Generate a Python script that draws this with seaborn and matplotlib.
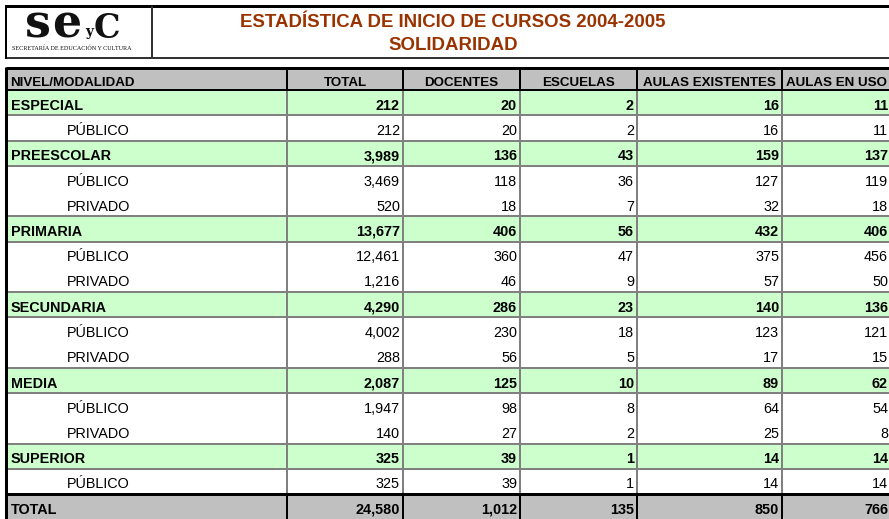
import matplotlib
matplotlib.use("Agg")
import matplotlib.pyplot as plt
import seaborn as sns

# ---------------- data ----------------
title_lines = ["ESTADÍSTICA DE INICIO DE CURSOS 2004-2005", "SOLIDARIDAD"]
columns = ["NIVEL/MODALIDAD", "TOTAL", "DOCENTES", "ESCUELAS", "AULAS EXISTENTES", "AULAS EN USO"]
labels = ["ESPECIAL", "PÚBLICO", "PREESCOLAR", "PÚBLICO", "PRIVADO", "PRIMARIA", "PÚBLICO",
          "PRIVADO", "SECUNDARIA", "PÚBLICO", "PRIVADO", "MEDIA", "PÚBLICO", "PRIVADO",
          "SUPERIOR", "PÚBLICO", "TOTAL"]
row_kind = ["group", "sub", "group", "sub", "sub", "group", "sub", "sub", "group", "sub", "sub",
            "group", "sub", "sub", "group", "sub", "total"]
total = [212, 212, 3989, 3469, 520, 13677, 12461, 1216, 4290, 4002, 288, 2087, 1947, 140, 325, 325, 24580]
docentes = [20, 20, 136, 118, 18, 406, 360, 46, 286, 230, 56, 125, 98, 27, 39, 39, 1012]
escuelas = [2, 2, 43, 36, 7, 56, 47, 9, 23, 18, 5, 10, 8, 2, 1, 1, 135]
aulas_existentes = [16, 16, 159, 127, 32, 432, 375, 57, 140, 123, 17, 89, 64, 25, 14, 14, 850]
aulas_en_uso = [11, 11, 137, 119, 18, 406, 456, 50, 136, 121, 15, 62, 54, 8, 14, 14, 766]

# ---------------- style ----------------
sns.set_theme(style="white")
plt.rcParams["font.family"] = ["Liberation Sans", "DejaVu Sans"]
plt.rcParams["text.color"] = "black"

W, H = 889, 519
fig = plt.figure(figsize=(W / 100, H / 100), dpi=100)
ax = fig.add_axes([0, 0, 1, 1])
ax.set_xlim(0, W)
ax.set_ylim(H, 0)
ax.axis("off")

def px(v):
    return v * 72 / 100

col_edges = [6, 287, 403, 520, 637, 782, 891]
head_top, head_bot = 68, 90
row_h = 25.25
nrows = len(labels)
row_tops = [head_bot + i * row_h for i in range(nrows)]

GREEN = "#CCFFCC"
GRAY = "#C0C0C0"
LINE = "#808080"
BROWN = "#993300"
fill = {"group": GREEN, "sub": "white", "total": GRAY}

# backgrounds
ax.barh([head_top + (head_bot - head_top) / 2], [W], left=0, height=head_bot - head_top,
        color=GRAY, linewidth=0)
ax.barh([t + row_h / 2 for t in row_tops], [W] * nrows, left=0, height=row_h,
        color=[fill[k] for k in row_kind], linewidth=0)
ax.barh([H / 2], [col_edges[0]], left=0, height=H, color="white", linewidth=0)

# horizontal row lines (around group rows)
for i, k in enumerate(row_kind):
    t = row_tops[i]
    if k == "group":
        ax.plot([col_edges[0], W], [t, t], color=LINE, lw=px(2), solid_capstyle="butt")
        ax.plot([col_edges[0], W], [t + row_h, t + row_h], color=LINE, lw=px(2), solid_capstyle="butt")

# vertical separators
body_bottom = row_tops[-1]
for x in col_edges[1:]:
    ax.plot([x, x], [head_bot, body_bottom], color=LINE, lw=px(2), solid_capstyle="butt")
    ax.plot([x, x], [head_top, head_bot], color="black", lw=px(2), solid_capstyle="butt")
    ax.plot([x, x], [body_bottom, H], color="black", lw=px(2), solid_capstyle="butt")

# black structural lines
ax.plot([col_edges[0], W], [head_top, head_top], color="black", lw=px(3), solid_capstyle="butt")
ax.plot([col_edges[0], W], [head_bot, head_bot], color="black", lw=px(2), solid_capstyle="butt")
ax.plot([col_edges[0], W], [body_bottom, body_bottom], color="black", lw=px(3), solid_capstyle="butt")
ax.plot([col_edges[0], col_edges[0]], [head_top - 1.5, H], color="black", lw=px(3), solid_capstyle="butt")

# top banner box
ax.plot([6, W], [6, 6], color="black", lw=px(3), solid_capstyle="butt")
ax.plot([6, W], [57.5, 57.5], color="#333333", lw=px(2), solid_capstyle="butt")
ax.plot([6, 6], [4.5, 58.5], color="black", lw=px(2), solid_capstyle="butt")
ax.plot([152, 152], [6, 57.5], color="#333333", lw=px(2), solid_capstyle="butt")

# title
ax.text(453, 27, title_lines[0], ha="center", va="baseline", fontsize=13.4,
        fontweight="bold", color=BROWN)
ax.text(453, 50, title_lines[1], ha="center", va="baseline", fontsize=13.4,
        fontweight="bold", color=BROWN)

# logo
ax.text(38, 38, "s", ha="center", va="baseline", fontsize=33, fontweight="bold",
        family="DejaVu Serif", color="#111111")
ax.text(67, 38, "e", ha="center", va="baseline", fontsize=33, fontweight="bold",
        family="DejaVu Serif", color="#111111")
ax.text(89.5, 36, "y", ha="center", va="baseline", fontsize=10, fontweight="bold",
        family="DejaVu Serif", color="#111111")
ax.text(107, 38, "C", ha="center", va="baseline", fontsize=24, fontweight="bold",
        family="DejaVu Serif", color="#111111")
ax.text(12, 50.5, "SECRETARÍA DE EDUCACIÓN Y CULTURA", ha="left", va="baseline", fontsize=4.4,
        family="Liberation Serif", color="#111111")

# header texts
ax.text(10, head_bot - 4.5, columns[0], ha="left", va="baseline", fontsize=9.6, fontweight="bold")
for j in range(1, len(columns)):
    cx = (col_edges[j] + col_edges[j + 1]) / 2
    ax.text(cx, head_bot - 4.5, columns[j], ha="center", va="baseline", fontsize=9.6,
            fontweight="bold")

# body texts
value_cols = [total, docentes, escuelas, aulas_existentes, aulas_en_uso]
for i in range(nrows):
    k = row_kind[i]
    base = row_tops[i] + row_h - 5.5
    bold = "bold" if k in ("group", "total") else "normal"
    lx = 11 if k != "sub" else 67
    ax.text(lx, base, labels[i], ha="left", va="baseline", fontsize=10.4, fontweight=bold)
    for j, vals in enumerate(value_cols):
        ax.text(col_edges[j + 2] - 3, base, f"{vals[i]:,}", ha="right", va="baseline",
                fontsize=10.4, fontweight=bold)

fig.savefig("out.png", dpi=100)
